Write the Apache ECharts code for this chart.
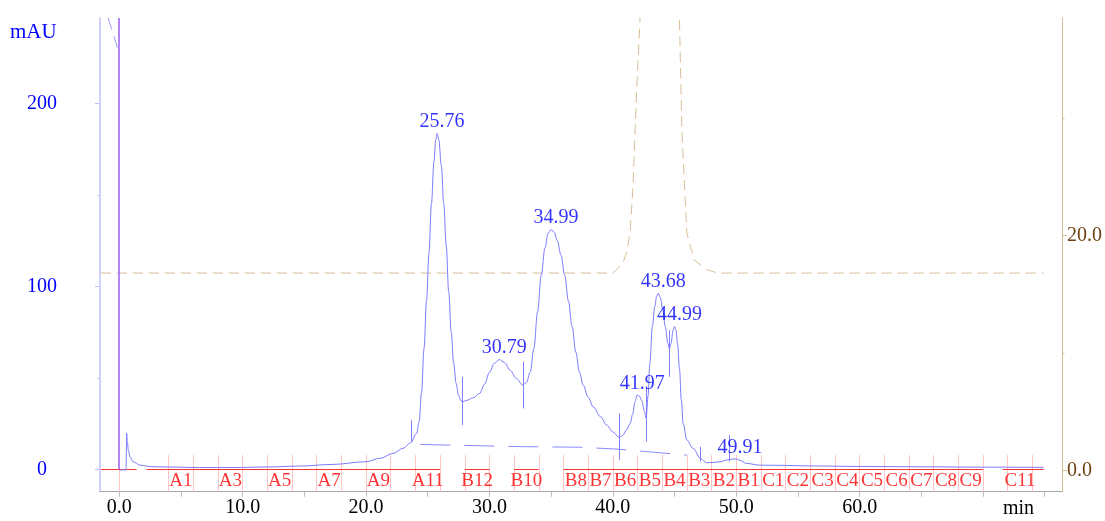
<!DOCTYPE html>
<html><head><meta charset="utf-8">
<script src="https://cdn.jsdelivr.net/npm/echarts@6/dist/echarts.min.js"></script>
<style>html,body{margin:0;padding:0;background:#fff}#c{width:1105px;height:521px}</style>
</head><body><div id="c"></div>
<script>
// UV trace (mAU) vs time (min)
const uvTime = [0, 0.55, 0.6, 0.65, 0.75, 0.87, 1.1, 1.7, 2.5, 3.8, 6.5, 9.2, 12, 14.6, 17.3, 20, 21.1, 22.2, 23, 23.6, 24.1, 24.3, 24.5, 24.7, 24.9, 25.1, 25.3, 25.5, 25.65, 25.76, 25.9, 26.1, 26.3, 26.5, 26.7, 26.9, 27.1, 27.3, 27.5, 27.7, 27.85, 28.2, 28.7, 29.2, 29.6, 30.0, 30.4, 30.79, 31.2, 31.7, 32.2, 32.7, 33.0, 33.3, 33.6, 33.9, 34.2, 34.5, 34.75, 35.0, 35.25, 35.5, 35.8, 36.1, 36.4, 36.7, 37.0, 37.3, 37.6, 38.0, 38.4, 39.0, 39.5, 40.0, 40.5, 40.8, 41.1, 41.4, 41.6, 41.8, 41.97, 42.15, 42.35, 42.55, 42.7, 42.85, 43.0, 43.2, 43.4, 43.55, 43.68, 43.85, 44.05, 44.25, 44.45, 44.58, 44.72, 44.88, 45.0, 45.12, 45.25, 45.4, 45.55, 45.7, 46.0, 46.5, 47.1, 47.6, 48.2, 48.7, 49.3, 49.91, 50.3, 50.8, 51.9, 53.5, 56, 60, 65, 70, 74.9];
const uvMAU  = [-0.3, -0.3, 19.8, 15, 10, 6.9, 4.2, 2.3, 1.5, 1.3, 1.0, 1.0, 1.3, 1.8, 2.7, 4.2, 6.0, 8.7, 11.5, 14.5, 19.7, 26, 42, 66, 92, 118, 145, 168, 180, 183.6, 180, 166, 145, 122, 97, 75, 58, 47, 40.5, 37.5, 37, 37.8, 39.2, 41.5, 46.5, 53, 58, 60, 58.5, 54, 49.5, 46, 47.5, 53, 66, 86, 106, 121, 129, 131, 129.5, 125, 117, 106, 92, 78, 64, 53, 46, 39.5, 34.2, 28.8, 24.2, 20.5, 17.5, 18.5, 21.5, 25, 30, 37, 40.6, 40, 37.5, 32, 28, 40, 58, 78, 89, 94.5, 96.2, 94, 87, 78, 69, 66, 69, 76, 78, 76, 68, 55, 38, 25, 16, 11.5, 6, 3.6, 3.8, 4.2, 5.2, 5.8, 5.0, 3.3, 2.3, 2.2, 1.9, 1.6, 1.4, 1.2, 1.1];

// labelled peaks
const peakTimes   = [25.76, 30.79, 34.99, 41.97, 43.68, 44.99, 49.91];
const peakHeights = [183.6, 60, 131, 40.6, 96.2, 78, 5.8];

// peak cut markers (vertical ticks)
const cutTimes = [23.7, 27.8, 32.7, 40.5, 42.7, 44.6, 47.1, 49.4];
const cutLow   = [15.1, 24.2, 33.3, 5.1, 15.1, 50.6, 4.2, 4.2];
const cutHigh  = [26.9, 50.6, 58.8, 30.6, 45.1, 76.1, 12.3, 18.7];

// dashed integration baseline
const baseTime = [24.4, 32.7, 37.3, 40.5, 46.0];
const baseMAU  = [13.6, 12.4, 12.1, 11.0, 7.8];

// short dashed trace before injection
const preTime = [-0.9, -0.08];
const preMAU  = [246.6, 229];

// second signal (right axis)
const condTime  = [-1.5, 40.0, 40.8, 41.1, 41.4, 41.65, 41.9, 42.2, 42.5, 45.1, 45.4, 45.6, 46.0, 46.6, 47.6, 48.5, 74.9];
const condValue = [16.8, 16.8, 17.6, 18.5, 20.2, 24.5, 31.6, 38.3, 45, 45, 38.3, 28.7, 20.2, 17.9, 17.1, 16.8, 16.8];

// fractions
const fracBounds = [4, 6, 8, 10, 12, 14, 16, 18, 20, 22, 24, 26, 28, 30, 32, 34, 36, 38, 40, 42, 44, 46, 48, 50, 52, 54, 56, 58, 60, 62, 64, 66, 68, 70, 72, 74];
const fracNames  = ['A1','A2','A3','A4','A5','A6','A7','A8','A9','A10','A11','A12','B12','B11','B10','B9','B8','B7','B6','B5','B4','B3','B2','B1','C1','C2','C3','C4','C5','C6','C7','C8','C9','C10','C11'];
const hiddenFrac = ['A2','A4','A6','A8','A10','A12','B11','B9','C10'];
const fracRunStart = [-1.5, 2.2, 28, 32, 36, 71.6];
const fracRunEnd   = [1.4, 26, 30, 34, 70, 74.9];

// axes
const xTicks = [0, 5, 10, 15, 20, 25, 30, 35, 40, 45, 50, 55, 60, 65, 70, 75];
const xLabels = [0, 10, 20, 30, 40, 50, 60];
const leftTicks = [0, 100, 200];
const leftMinor = [50, 150];
const rightTicks = [0, 20];
const rightMinor = [10, 30];

const FONT = '"Liberation Serif","DejaVu Serif",serif';
const X_MIN = -1.56, X_MAX = 76.4, YL_MIN = -12.2, YL_MAX = 246.6, YR_MIN = -1.8, YR_MAX = 38.5;

const pair = (a, b) => a.map((t, i) => [t, b[i]]);

const fracCenters = fracNames.map((n, i) => [(fracBounds[i] + fracBounds[i + 1]) / 2, -6.2, n]).filter(d => hiddenFrac.indexOf(d[2]) < 0);
const fracVerticals = fracBounds.map(t => ({ coords: [[t, 7.8], [t, YL_MIN]] }));
fracVerticals.push({ coords: [[0, 0], [0, YL_MIN]] });
const fracRuns = fracRunStart.map((s, i) => ({ coords: [[s, 0], [fracRunEnd[i], 0]] }));
const cuts = cutTimes.map((t, i) => ({ coords: [[t, cutLow[i]], [t, cutHigh[i]]] }));

const chart = echarts.init(document.getElementById('c'));
chart.setOption({
  animation: false,
  backgroundColor: '#fff',
  grid: { left: 100, right: 43, top: 18, bottom: 29.3, containLabel: false, outerBoundsMode: 'none' },
  xAxis: {
    type: 'value', min: X_MIN, max: X_MAX,
    axisLine: { onZero: false, lineStyle: { color: '#a8a8a8', width: 1 } },
    axisTick: { customValues: xTicks, length: 5, lineStyle: { color: '#bdbdbd' } },
    axisLabel: { customValues: xLabels, formatter: v => Number(v).toFixed(1), color: '#000', fontSize: 20, fontFamily: FONT, margin: 6 },
    splitLine: { show: false }
  },
  yAxis: [
    {
      type: 'value', position: 'left', min: YL_MIN, max: YL_MAX,
      axisLine: { show: true, onZero: false, lineStyle: { color: '#c0c0ff', width: 1.5 } },
      axisTick: { show: true, customValues: leftTicks, length: 5, lineStyle: { color: '#c0c0ff' } },
      axisLabel: { customValues: leftTicks, align: 'center', margin: 58, color: '#0000ff', fontSize: 20, fontFamily: FONT },
      splitLine: { show: false }
    },
    {
      type: 'value', position: 'right', min: YR_MIN, max: YR_MAX,
      axisLine: { show: true, onZero: false, lineStyle: { color: '#d6bc96', width: 1 } },
      axisTick: { show: true, customValues: rightTicks, length: 5, lineStyle: { color: '#d6bc96' } },
      axisLabel: { customValues: rightTicks, formatter: v => Number(v).toFixed(1), align: 'left', margin: 5, color: '#6e4210', fontSize: 20, fontFamily: FONT },
      splitLine: { show: false }
    },
    {
      type: 'value', position: 'left', min: YL_MIN, max: YL_MAX,
      axisLine: { show: false, onZero: false },
      axisTick: { show: true, customValues: leftMinor, length: 2.5, lineStyle: { color: '#c0c0ff' } },
      axisLabel: { show: false }, splitLine: { show: false }
    },
    {
      type: 'value', position: 'right', min: YR_MIN, max: YR_MAX,
      axisLine: { show: false, onZero: false },
      axisTick: { show: true, customValues: rightMinor, length: 2.5, lineStyle: { color: '#d6bc96' } },
      axisLabel: { show: false }, splitLine: { show: false }
    }
  ],
  graphic: [
    { type: 'text', left: 10, top: 22, style: { text: 'mAU', fill: '#0000ff', font: '21px ' + FONT } },
    { type: 'text', left: 1003, top: 499, style: { text: 'min', fill: '#000', font: '20px ' + FONT } }
  ],
  series: [
    { type: 'lines', coordinateSystem: 'cartesian2d', silent: true, z: 1, data: fracVerticals, lineStyle: { color: '#ffc4c4', width: 1, opacity: 1, curveness: 0 } },
    { type: 'lines', coordinateSystem: 'cartesian2d', silent: true, z: 2, data: fracRuns, lineStyle: { color: '#ff3030', width: 1, opacity: 1, curveness: 0 } },
    { type: 'scatter', silent: true, z: 3, symbolSize: 1, itemStyle: { color: 'rgba(0,0,0,0)' }, data: fracCenters,
      label: { show: true, position: 'inside', formatter: p => p.value[2], color: '#ff0000', fontSize: 19, fontFamily: FONT } },
    { type: 'line', yAxisIndex: 1, silent: true, z: 3, showSymbol: false, data: pair(condTime, condValue), clip: true,
      lineStyle: { color: '#d9bc98', width: 1, type: [10, 6] } },
    { type: 'line', silent: true, z: 4, showSymbol: false, data: pair(baseTime, baseMAU),
      lineStyle: { color: '#8a8aff', width: 1, type: [30, 14] } },
    { type: 'line', silent: true, z: 4, showSymbol: false, data: pair(preTime, preMAU), clip: true,
      lineStyle: { color: '#9a9aff', width: 1, type: [12, 7] } },
    { type: 'lines', coordinateSystem: 'cartesian2d', silent: true, z: 5, data: cuts, lineStyle: { color: '#8080ff', width: 1, opacity: 1, curveness: 0 } },
    { type: 'lines', coordinateSystem: 'cartesian2d', silent: true, z: 6, data: [{ coords: [[0, 0], [0, YL_MAX]] }], lineStyle: { color: '#9a5cf2', width: 1.5, opacity: 1, curveness: 0 } },
    { type: 'line', silent: true, z: 7, showSymbol: false, smooth: 0.35, smoothMonotone: 'x', data: pair(uvTime, uvMAU),
      lineStyle: { color: '#7b7bff', width: 1 } },
    { type: 'scatter', silent: true, z: 8, symbolSize: 1, itemStyle: { color: 'rgba(0,0,0,0)' }, data: pair(peakTimes, peakHeights),
      label: { show: true, position: 'top', distance: 1, offset: [5, 0], formatter: p => p.value[0].toFixed(2), color: '#0000ff', fontSize: 20, fontFamily: FONT } }
  ]
});
</script></body></html>
